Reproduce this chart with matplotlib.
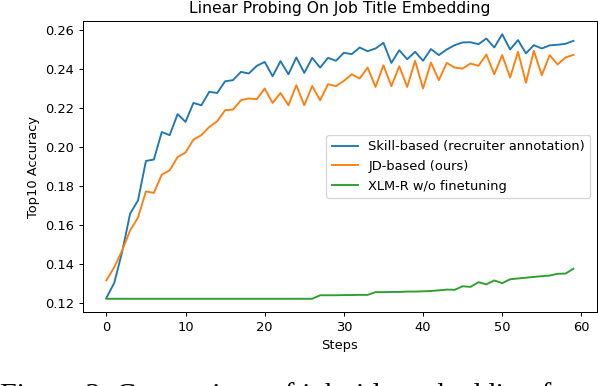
import numpy as np
import matplotlib
matplotlib.use("Agg")
import matplotlib.pyplot as plt

# values (60 steps)
steps = list(range(60))

skill_based = [
    0.1228, 0.1306, 0.1465, 0.1660, 0.1728, 0.1930, 0.1937, 0.2078, 0.2062, 0.2170,
    0.2130, 0.2227, 0.2215, 0.2284, 0.2278, 0.2338, 0.2344, 0.2386, 0.2378, 0.2417,
    0.2437, 0.2364, 0.2441, 0.2374, 0.2460, 0.2381, 0.2458, 0.2408, 0.2458, 0.2443,
    0.2484, 0.2477, 0.2511, 0.2492, 0.2506, 0.2535, 0.2432, 0.2497, 0.2451, 0.2489,
    0.2443, 0.2503, 0.2472, 0.2501, 0.2523, 0.2537, 0.2538, 0.2528, 0.2557, 0.2511,
    0.2579, 0.2501, 0.2549, 0.2481, 0.2523, 0.2506, 0.2522, 0.2525, 0.2530, 0.2545,
]

jd_based = [
    0.1318, 0.1386, 0.1472, 0.1574, 0.1640, 0.1774, 0.1766, 0.1860, 0.1882, 0.1950,
    0.1973, 0.2039, 0.2062, 0.2104, 0.2133, 0.2190, 0.2193, 0.2241, 0.2250, 0.2246,
    0.2301, 0.2227, 0.2278, 0.2215, 0.2318, 0.2215, 0.2314, 0.2241, 0.2323, 0.2313,
    0.2340, 0.2374, 0.2352, 0.2408, 0.2309, 0.2420, 0.2313, 0.2415, 0.2309, 0.2443,
    0.2301, 0.2434, 0.2344, 0.2432, 0.2408, 0.2403, 0.2429, 0.2417, 0.2475, 0.2374,
    0.2472, 0.2357, 0.2489, 0.2330, 0.2494, 0.2369, 0.2472, 0.2424, 0.2460, 0.2473,
]

xlmr = [0.1224] * 27 + [
    0.1242, 0.1242, 0.1242, 0.1243, 0.1243, 0.1244, 0.1244, 0.1258, 0.1258, 0.1259,
    0.1259, 0.1261, 0.1261, 0.1262, 0.1264, 0.1267, 0.1271, 0.1270, 0.1288, 0.1285,
    0.1309, 0.1298, 0.1318, 0.1304, 0.1324, 0.1328, 0.1332, 0.1336, 0.1340, 0.1343,
    0.1352, 0.1353, 0.1378,
]

labels = ["Skill-based (recruiter annotation)", "JD-based (ours)", "XLM-R w/o finetuning"]

plt.rcParams["font.size"] = 10.4

dpi = 90.6
fig = plt.figure(figsize=(598 / dpi, 386 / dpi), dpi=dpi)
ax = fig.add_axes([0.1388, 0.1917, 0.8592, 0.7539])

ax.plot(steps, skill_based, label=labels[0])
ax.plot(steps, jd_based, label=labels[1])
ax.plot(steps, xlmr, label=labels[2])

ax.set_title("Linear Probing On Job Title Embedding")
ax.set_xlabel("Steps")
ax.set_ylabel("Top10 Accuracy")
ax.set_yticks(np.arange(0.12, 0.261, 0.02))
ax.legend(loc="center right")

# caption of the paper figure, cut off at the bottom edge
fig.text(0.0, -0.044, "Figure 3: Comparison of job title embedding from",
         family="Liberation Serif", fontsize=23.8, color="black", va="baseline")

fig.savefig("out.png", dpi=dpi)
